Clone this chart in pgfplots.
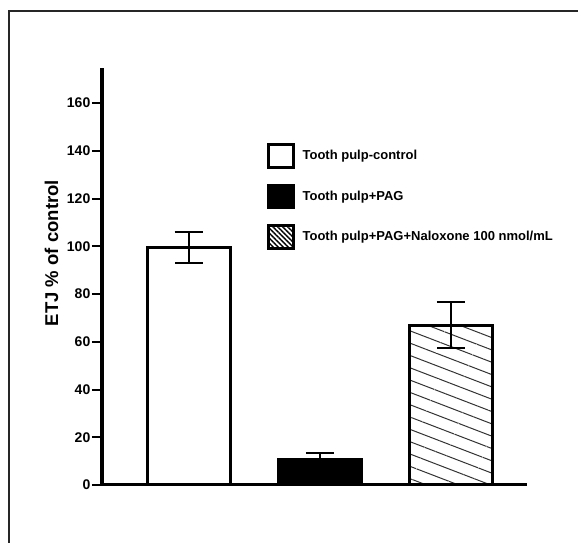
\documentclass[border=0pt]{standalone}
\usepackage{fontspec}
\setmainfont{Liberation Sans}
\usepackage{pgfplots}
\pgfplotsset{compat=1.18}
\usetikzlibrary{patterns.meta}

\pgfplotsset{
  boxlegend/.style={legend image code/.code={\draw[##1] (0pt,-11.5pt) rectangle (25pt,11.5pt);}},
}

\begin{document}
\begin{tikzpicture}[x=1pt,y=1pt]
\useasboundingbox (0,0) rectangle (578,543);
% outer frame of the figure
\draw[line width=2pt, black!85] (9,-20) rectangle (600,532);
\begin{axis}[
  at={(102pt,58pt)}, anchor=south west,
  scale only axis, width=425pt, height=417pt,
  xmin=-0.66, xmax=2.58,
  ymin=0, ymax=174.7,
  axis x line*=bottom, axis y line*=left,
  x axis line style={line width=3pt,-},
  y axis line style={line width=3.5pt,-},
  xtick=\empty,
  ytick={0,20,...,160},
  tick align=outside, major tick length=10pt,
  tick style={line width=2pt, black},
  /pgf/number format/assume math mode=true,
  yticklabel style={font=\fontsize{14}{16}\selectfont\bfseries, inner sep=1.5pt},
  ylabel={ETJ \% of control},
  ylabel style={font=\fontsize{18.5}{21}\selectfont\bfseries, at={(axis description cs:-0.1186,0.556)}, anchor=center},
  ybar, bar width=83pt, bar shift=0pt,
  error bars/y dir=both, error bars/y explicit,
  error bars/error bar style={line width=2pt, black},
  error bars/error mark options={rotate=90, mark size=14pt, line width=2pt, black},
  legend style={at={(0.388,0.82)}, anchor=north west, draw=none, fill=none,
    inner sep=0pt, row sep=15pt, column sep=8pt,
    font=\fontsize{13}{15}\selectfont\bfseries,
    nodes={inner sep=0pt, anchor=west}},
  legend cell align=left,
]
\addplot[fill=white, draw=black, line width=3pt, forget plot]
  coordinates {(0,99.5) +- (0,6.7)};
\addplot[fill=black, draw=black, line width=3pt, forget plot]
  coordinates {(1,10.7) +- (0,2.9)};
\addplot[pattern={Lines[angle=-21, distance=11.5pt, line width=1pt]}, pattern color=black!80,
  draw=black, line width=3pt, forget plot]
  coordinates {(2,67) +- (0,9.6)};

\addlegendimage{boxlegend, fill=white, draw=black, line width=2.5pt}
\addlegendentry{Tooth pulp-control}
\addlegendimage{boxlegend, fill=black, draw=black, line width=2.5pt}
\addlegendentry{Tooth pulp+PAG}
\addlegendimage{boxlegend, pattern={Lines[angle=-45, distance=3.5pt, line width=1.4pt]}, pattern color=black, draw=black, line width=2.5pt}
\addlegendentry{Tooth pulp+PAG+Naloxone 100 nmol/mL}
\end{axis}
\end{tikzpicture}
\end{document}
